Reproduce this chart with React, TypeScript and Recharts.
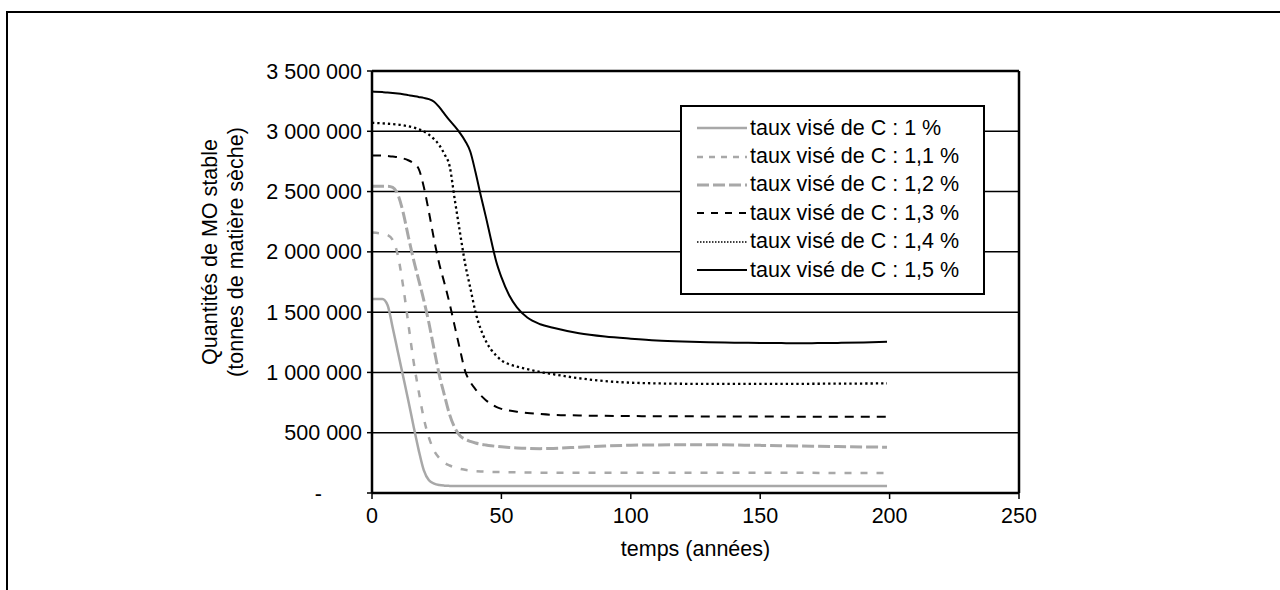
import { LineChart, Line, XAxis, YAxis, CartesianGrid, ReferenceLine, Legend, Label } from "recharts";

// temps (années)
const years = [
  0, 4, 6, 8, 10, 12, 14, 16, 18, 20, 22, 24, 26, 28, 30, 32, 34, 36, 38, 40, 42, 44, 46, 48, 50, 53, 56, 60, 65, 70,
  80, 90, 100, 110, 120, 130, 140, 150, 160, 170, 180, 190, 199,
];

// quantités de MO stable (t MS), une liste par taux visé
const taux10 = [
  1610000, 1610000, 1560000, 1370000, 1170000, 970000, 770000, 560000, 360000, 190000, 105000, 78000, 66000, 61000,
  59000, 58000, 58000, 58000, 58000, 58000, 58000, 58000, 58000, 58000, 58000, 58000, 58000, 58000, 58000, 58000,
  58000, 58000, 58000, 58000, 58000, 58000, 58000, 58000, 58000, 58000, 58000, 58000, 58000,
];
const taux11 = [
  2160000, 2150000, 2140000, 2100000, 1970000, 1720000, 1410000, 1100000, 850000, 620000, 460000, 350000, 290000,
  250000, 228000, 212000, 200000, 192000, 186000, 182000, 179000, 177000, 175000, 174000, 173000, 172000, 171000,
  170000, 169000, 168000, 168000, 167000, 167000, 167000, 167000, 167000, 167000, 167000, 167000, 167000, 166000,
  166000, 166000,
];
const taux12 = [
  2545000, 2545000, 2545000, 2535000, 2475000, 2330000, 2130000, 1940000, 1770000, 1600000, 1410000, 1190000, 980000,
  810000, 650000, 540000, 475000, 445000, 428000, 415000, 405000, 398000, 392000, 387000, 383000, 378000, 374000,
  370000, 368000, 370000, 380000, 390000, 396000, 399000, 400000, 400000, 398000, 395000, 391000, 388000, 385000,
  382000, 380000,
];
const taux13 = [
  2800000, 2798000, 2795000, 2790000, 2785000, 2775000, 2760000, 2735000, 2690000, 2540000, 2330000, 2100000, 1900000,
  1740000, 1570000, 1380000, 1190000, 1010000, 920000, 860000, 810000, 770000, 738000, 714000, 698000, 684000, 674000,
  664000, 655000, 648000, 643000, 640000, 638000, 637000, 636000, 635000, 634000, 634000, 633000, 633000, 633000,
  632000, 632000,
];
const taux14 = [
  3070000, 3066000, 3063000, 3060000, 3056000, 3050000, 3042000, 3032000, 3018000, 3000000, 2972000, 2935000, 2885000,
  2810000, 2710000, 2430000, 2160000, 1900000, 1700000, 1500000, 1360000, 1260000, 1190000, 1140000, 1100000, 1068000,
  1048000, 1028000, 1003000, 985000, 952000, 928000, 915000, 909000, 906000, 905000, 905000, 905000, 905000, 906000,
  907000, 908000, 909000,
];
const taux15 = [
  3330000, 3325000, 3322000, 3318000, 3313000, 3307000, 3300000, 3293000, 3285000, 3277000, 3267000, 3245000, 3200000,
  3145000, 3090000, 3040000, 2985000, 2920000, 2830000, 2660000, 2470000, 2290000, 2100000, 1920000, 1790000, 1640000,
  1540000, 1455000, 1400000, 1370000, 1325000, 1298000, 1280000, 1265000, 1256000, 1250000, 1247000, 1245000, 1243000,
  1243000, 1245000, 1249000, 1254000,
];

const xTicks = [0, 50, 100, 150, 200, 250];
const yTicks = [0, 500000, 1000000, 1500000, 2000000, 2500000, 3000000, 3500000];

const GREY = "#a8a8a8";
const FONT = "'Liberation Sans', Arial, sans-serif";
const FS = 21.5;

const series = [
  { key: "c10", name: "taux visé de C : 1 %", values: taux10, stroke: GREY, width: 2.5, dash: undefined, legendDash: undefined },
  { key: "c11", name: "taux visé de C : 1,1 %", values: taux11, stroke: GREY, width: 2.5, dash: "7 9", legendDash: "6 6" },
  { key: "c12", name: "taux visé de C : 1,2 %", values: taux12, stroke: GREY, width: 3, dash: "12 4", legendDash: "12 4" },
  { key: "c13", name: "taux visé de C : 1,3 %", values: taux13, stroke: "#000", width: 2, dash: "9 7", legendDash: "7 7" },
  { key: "c14", name: "taux visé de C : 1,4 %", values: taux14, stroke: "#000", width: 2.3, dash: "2.3 3", legendDash: "1.5 1.5" },
  { key: "c15", name: "taux visé de C : 1,5 %", values: taux15, stroke: "#000", width: 2, dash: undefined, legendDash: undefined },
];

const data = years.map((t, i) => {
  const row: any = { t };
  series.forEach((s) => (row[s.key] = s.values[i]));
  return row;
});

const fmt = (v: number) => String(v).replace(/\B(?=(\d{3})+(?!\d))/g, " ");

function YTick(props: any) {
  const { x, y, payload } = props;
  const v = payload.value;
  return (
    <text x={v === 0 ? x - 40 : x} y={y} dy="0.355em" textAnchor="end" fontSize={FS} fill="#000" fontFamily={FONT}>
      {v === 0 ? "-" : fmt(v)}
    </text>
  );
}

function YLabel(props: any) {
  const vb = props.viewBox;
  const cx = vb.x - 70;
  const cy = vb.y + vb.height / 2 - 30;
  return (
    <text transform={`rotate(-90, ${cx}, ${cy})`} textAnchor="middle" fontSize={FS} fill="#000" fontFamily={FONT}>
      <tspan x={cx} y={cy - 5}>
        Quantités de MO stable
      </tspan>
      <tspan x={cx} y={cy + 21}>
        (tonnes de matière sèche)
      </tspan>
    </text>
  );
}

function LegendBox() {
  return (
    <div
      style={{
        boxSizing: "border-box",
        width: 305,
        height: 190,
        border: "2px solid #000",
        background: "#fff",
        paddingTop: 7,
        fontFamily: FONT,
        fontSize: FS,
        color: "#000",
      }}
    >
      {series.map((s) => (
        <div key={s.key} style={{ display: "flex", alignItems: "center", height: 28.4, whiteSpace: "nowrap" }}>
          <svg width={50} height={10} style={{ marginLeft: 15, marginRight: 3 }}>
            <line
              x1={0}
              y1={5}
              x2={50}
              y2={5}
              stroke={s.stroke}
              strokeWidth={s.key === "c14" ? 1.5 : s.width}
              strokeDasharray={s.legendDash}
            />
          </svg>
          <span>{s.name}</span>
        </div>
      ))}
    </div>
  );
}

export default function App() {
  return (
    <div
      style={{
        position: "fixed",
        left: 0,
        top: 0,
        width: 1280,
        height: 590,
        overflow: "hidden",
        background: "#fff",
      }}
    >
      <div
        style={{
          position: "absolute",
          left: 6,
          top: 11,
          width: 1320,
          height: 640,
          border: "2px solid #000",
        }}
      />
      <div style={{ position: "absolute", left: 0, top: 0 }}>
        <LineChart width={1280} height={590} data={data} margin={{ top: 71, right: 261, bottom: 57, left: 292 }}>
          <CartesianGrid horizontal vertical={false} stroke="#000" strokeWidth={1.5} />
          <XAxis
            dataKey="t"
            type="number"
            domain={[0, 250]}
            ticks={xTicks}
            interval={0}
            height={40}
            tickSize={6}
            tickMargin={9}
            axisLine={{ stroke: "#000", strokeWidth: 2.5 }}
            tickLine={{ stroke: "#000", strokeWidth: 1.5 }}
            tick={{ fontSize: FS, fill: "#000", fontFamily: FONT }}
          >
            <Label value="temps (années)" position="bottom" offset={8} fontSize={FS} fill="#000" fontFamily={FONT} />
          </XAxis>
          <YAxis
            type="number"
            domain={[0, 3500000]}
            ticks={yTicks}
            interval={0}
            width={80}
            tickSize={5}
            tickMargin={5}
            axisLine={{ stroke: "#000", strokeWidth: 2.5 }}
            tickLine={{ stroke: "#000", strokeWidth: 1.5 }}
            tick={<YTick />}
          >
            <Label content={<YLabel />} />
          </YAxis>
          <ReferenceLine y={3500000} stroke="#000" strokeWidth={2.5} />
          <ReferenceLine x={250} stroke="#000" strokeWidth={2.5} />
          {series.map((s) => (
            <Line
              key={s.key}
              type="monotone"
              dataKey={s.key}
              name={s.name}
              stroke={s.stroke}
              strokeWidth={s.width}
              strokeDasharray={s.dash}
              dot={false}
              activeDot={false}
              isAnimationActive={false}
            />
          ))}
          <Legend
            layout="vertical"
            align="center"
            verticalAlign="middle"
            content={<LegendBox />}
            wrapperStyle={{ left: 680, top: 105, width: 305, height: 190 }}
          />
        </LineChart>
      </div>
    </div>
  );
}
